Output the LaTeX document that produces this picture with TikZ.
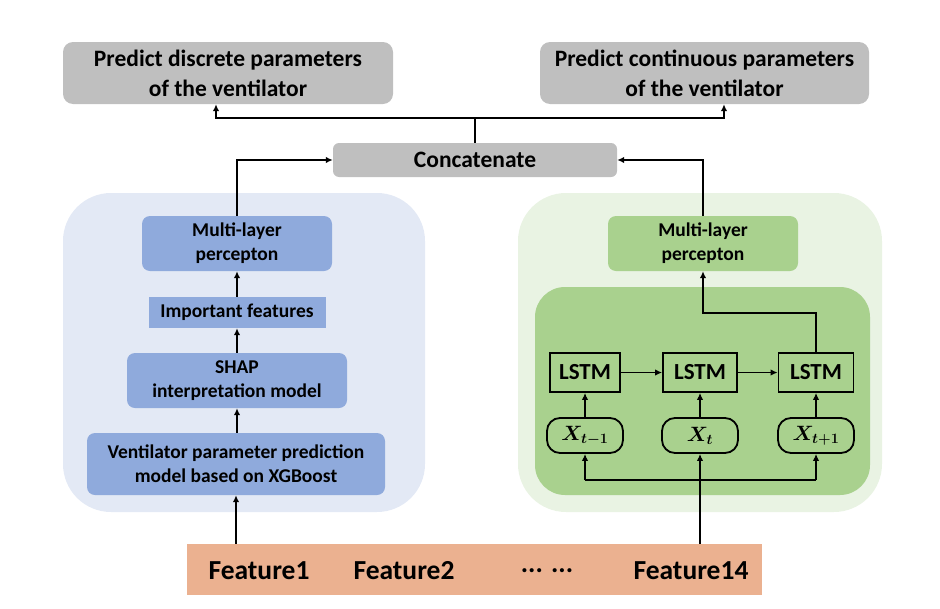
\documentclass[tikz,border=0pt]{standalone}
\usepackage{fontspec}
\setmainfont{Carlito}
\usetikzlibrary{arrows.meta}
\definecolor{greybox}{HTML}{BFBFBF}
\definecolor{lpanel}{HTML}{E3E9F5}
\definecolor{rpanel}{HTML}{E9F3E3}
\definecolor{bluebox}{HTML}{8FAADC}
\definecolor{greenbox}{HTML}{A9D18E}
\definecolor{barcol}{HTML}{EBB190}
\tikzset{
  base/.style={inner sep=0pt, align=center, font=\bfseries},
  topbox/.style={base, fill=greybox, rounded corners=10pt, font=\bfseries\fontsize{23.5}{30}\selectfont},
  catbox/.style={base, fill=greybox, rounded corners=6pt, font=\bfseries\fontsize{23.5}{30}\selectfont},
  bbox/.style={base, fill=bluebox, rounded corners=8pt, font=\bfseries\fontsize{19.5}{24}\selectfont},
  ibox/.style={base, fill=bluebox, font=\bfseries\fontsize{19.5}{24}\selectfont},
  gbox/.style={base, fill=greenbox, rounded corners=8pt, font=\bfseries\fontsize{19.5}{24}\selectfont},
  lstmbox/.style={base, draw=black, line width=1.8pt, minimum width=70pt, minimum height=39pt, font=\bfseries\fontsize{23}{28}\selectfont},
  xbox/.style={base, draw=black, line width=1.8pt, rounded corners=13pt, minimum width=76pt, minimum height=35pt, font=\fontsize{21}{25}\selectfont\boldmath},
  feat/.style={base, font=\bfseries\fontsize{27.5}{33}\selectfont},
  arr/.style={line width=1.8pt, -{Latex[length=7pt,width=6.5pt]}},
  ln/.style={line width=1.8pt}
}
\begin{document}
\begin{tikzpicture}[x=1pt,y=-1pt]
\useasboundingbox (0,0) rectangle (940,608);
% panels
\fill[lpanel, rounded corners=48pt] (63,193) rectangle (425,512);
\fill[rpanel, rounded corners=48pt] (518,193) rectangle (882,512);
\fill[greenbox, rounded corners=30pt] (535,287) rectangle (870,495);

% top
\node[topbox, minimum width=330pt, minimum height=62pt] (topL) at (228,73) {Predict discrete parameters\\of the ventilator};
\node[topbox, minimum width=329pt, minimum height=62pt] (topR) at (704.5,73) {Predict continuous parameters\\of the ventilator};
\node[catbox, minimum width=284pt, minimum height=34pt] (concat) at (475,160) {Concatenate};

% left column
\node[bbox, minimum width=190pt, minimum height=55pt] (lmlp) at (237,243.5) {Multi-layer\\percepton};
\node[ibox, minimum width=177pt, minimum height=31pt] (imp) at (237,312.5) {Important features};
\node[bbox, minimum width=220pt, minimum height=55pt] (shap) at (237,380.5) {SHAP\\interpretation model};
\node[bbox, minimum width=298pt, minimum height=62pt] (xgb) at (236,464) {Ventilator parameter prediction\\model based on XGBoost};

% right column
\node[gbox, minimum width=190pt, minimum height=55pt] (rmlp) at (703,243.5) {Multi-layer\\percepton};
\node[lstmbox] (l1) at (585,372.5) {LSTM};
\node[lstmbox, minimum width=74pt] (l2) at (700,372.5) {LSTM};
\node[lstmbox, minimum width=75pt] (l3) at (816,372.5) {LSTM};
\node[xbox] (x1) at (585,435.5) {$X_{t-1}$};
\node[xbox] (x2) at (700,435.5) {$X_{t}$};
\node[xbox] (x3) at (816,435.5) {$X_{t+1}$};

% bottom bar
\node[base, fill=barcol, minimum width=575pt, minimum height=51pt] (bar) at (474.5,569.5) {};
\node[feat] (f1) at (259,571) {Feature1};
\node[feat] (f2) at (404,571) {Feature2};
\node[feat] (fd) at (547,571) {... ...};
\node[feat] (f14) at (691,571) {Feature14};

% connectors
\coordinate (split) at (475,118);
\draw[ln] (concat.north) -- (split);
\draw[arr] (split) -| ([xshift=-12pt]topL.south);
\draw[arr] (split) -| ([xshift=19.5pt]topR.south);
\draw[arr] (lmlp.north) |- (concat.west);
\draw[arr] (rmlp.north) |- (concat.east);

\draw[arr] (bar.north -| xgb) -- (xgb.south);
\draw[arr] (xgb.north -| shap) -- (shap.south);
\draw[arr] (shap.north) -- (imp.south);
\draw[arr] (imp.north) -- (lmlp.south);

\draw[arr] (l1) -- (l2);
\draw[arr] (l2) -- (l3);
\draw[arr] (x1) -- (l1);
\draw[arr] (x2) -- (l2);
\draw[arr] (x3) -- (l3);
\coordinate (bend) at (703,313);
\draw[arr] (l3.north) |- (bend) -- (rmlp.south);

\coordinate (busL) at (585,480);
\coordinate (busR) at (816,480);
\draw[arr] (bar.north -| x2) -- (x2.south);
\draw[ln] (busL) -- (busR);
\draw[arr] (busL) -- (x1.south);
\draw[arr] (busR) -- (x3.south);
\end{tikzpicture}
\end{document}
